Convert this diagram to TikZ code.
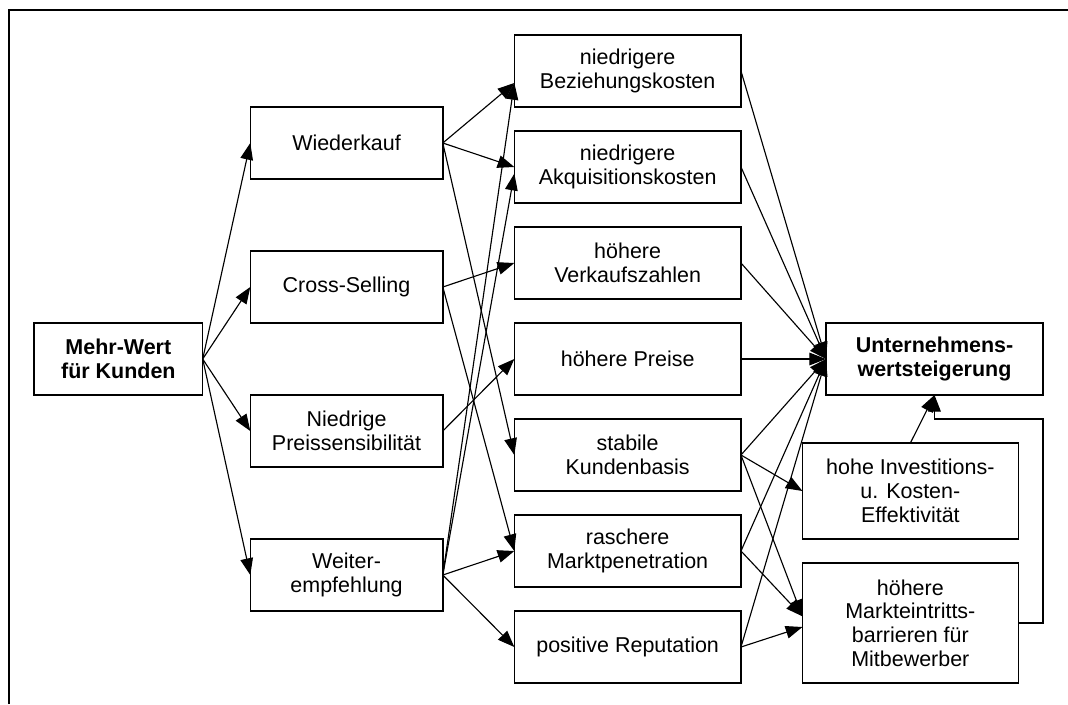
\documentclass[tikz,border=0pt]{standalone}
\usepackage{fontspec}
\setmainfont{Liberation Sans}
\usetikzlibrary{arrows.meta}
\begin{document}
\begin{tikzpicture}[x=0.75pt,y=-0.75pt,
  box/.style={draw,line width=1.05pt,inner sep=0pt,outer sep=0pt,align=center,
    font=\fontsize{16.1pt}{17.8pt}\selectfont},
  colone/.style={box,minimum width=144.4pt,minimum height=54pt},
  coltwo/.style={box,minimum width=170pt,minimum height=54pt},
  arr/.style={line width=0.85pt,-{Triangle[length=12.5pt,width=9.5pt]}},
  plain/.style={line width=0.85pt}]
\useasboundingbox (0,0) rectangle (1068,704);
\draw[line width=1.6pt] (9,704) -- (9,10) -- (1068,10);

\node[box,minimum width=126.5pt,minimum height=54pt,font=\fontsize{16.1pt}{17.8pt}\selectfont\bfseries] (mw) at (118.35,359) {Mehr-Wert\\für Kunden};

\node[colone] (wk) at (346.55,143) {Wiederkauf};
\node[colone] (cs) at (346.55,287) {Cross-Selling};
\node[colone] (np) at (346.55,431) {Niedrige\\Preissensibilität};
\node[colone] (we) at (346.55,575) {Weiter-\\empfehlung};

\node[coltwo] (bk) at (627.65,71) {niedrigere\\Beziehungskosten};
\node[coltwo] (ak) at (627.65,167) {niedrigere\\Akquisitionskosten};
\node[coltwo] (vz) at (627.65,263) {höhere\\Verkaufszahlen};
\node[coltwo] (hp) at (627.65,359) {höhere Preise};
\node[coltwo] (sk) at (627.65,455) {stabile\\Kundenbasis};
\node[coltwo] (rm) at (627.65,551) {raschere\\Marktpenetration};
\node[coltwo] (pr) at (627.65,647) {positive Reputation};

\node[box,minimum width=162.75pt,minimum height=54pt,font=\fontsize{16.1pt}{17.8pt}\selectfont\bfseries] (uw) at (934.5,359) {Unternehmens-\\wertsteigerung};
\node[box,minimum width=161.9pt,minimum height=72pt] (ik) at (910.35,491) {hohe Investitions-\\u. Kosten-\\Effektivität};
\node[box,minimum width=161.9pt,minimum height=90pt] (mb) at (910.35,623) {höhere\\Markteintritts-\\barrieren für\\Mitbewerber};

% Mehr-Wert to column 1
\foreach \t in {wk,cs,np,we} \draw[arr] (mw.east) -- (\t.west);

% column 1 to column 2
\draw[arr] (wk.east) -- ([yshift=-9pt]bk.west);
\draw[arr] (wk.east) -- (ak.west);
\draw[arr] (wk.east) -- (sk.west);
\draw[arr] (cs.east) -- (vz.west);
\draw[arr] (cs.east) -- (rm.west);
\draw[arr] (np.east) -- (hp.west);
\draw[arr] (we.east) -- ([yshift=-9pt]bk.west);
\draw[arr] (we.east) -- ([yshift=-5pt]ak.west);
\draw[arr] (we.east) -- (rm.west);
\draw[arr] (we.east) -- (pr.west);

% column 2 to Unternehmenswertsteigerung
\foreach \s in {bk,ak,vz,hp,sk,rm,pr} \draw[arr] (\s.east) -- (uw.west);

% column 2 to right boxes
\draw[arr] (sk.east) -- (ik.west);
\draw[arr] (sk.east) -- ([yshift=5pt]mb.west);
\draw[arr] (rm.east) -- ([yshift=5pt]mb.west);
\draw[arr] (pr.east) -- ([yshift=-3pt]mb.west);

% right boxes to Unternehmenswertsteigerung
\draw[arr] (ik.north) -- (uw.south);
\coordinate (fb) at ([yshift=-18pt]uw.south);
\draw[arr] (mb.east) -- (mb.east -| uw.east) -- (fb -| uw.east) -- (fb) -- (uw.south);
\end{tikzpicture}
\end{document}
